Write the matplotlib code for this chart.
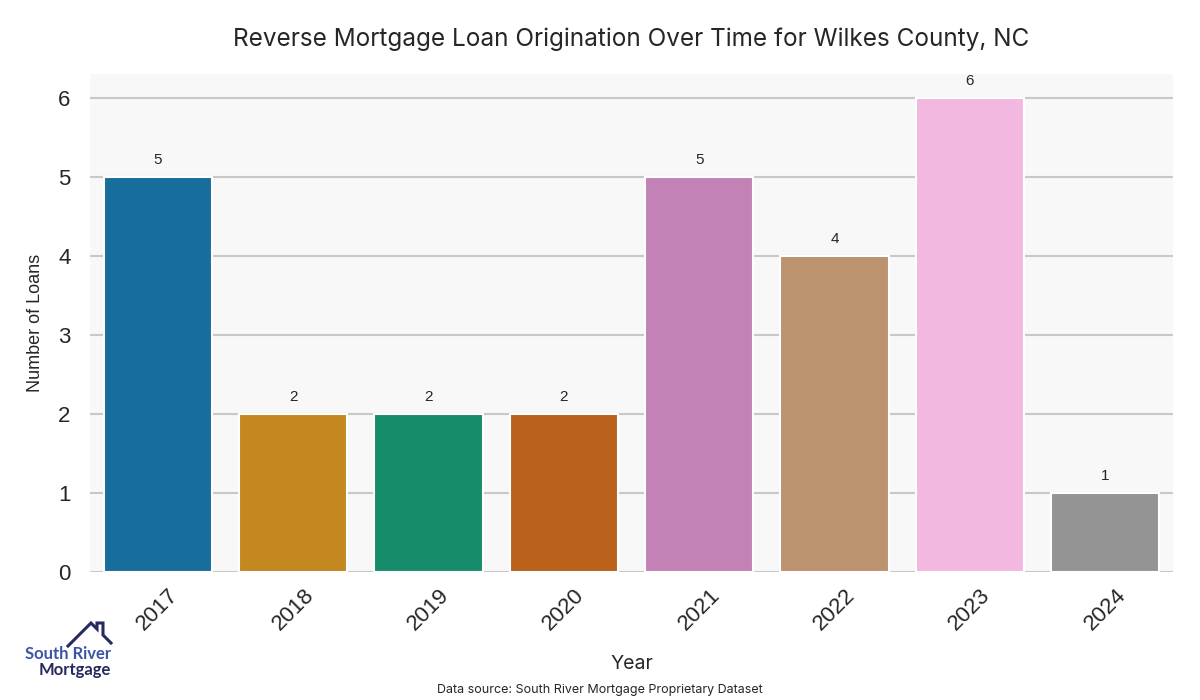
import matplotlib
matplotlib.use("Agg")
import matplotlib.pyplot as plt
from matplotlib.lines import Line2D
import seaborn as sns

years = ["2017", "2018", "2019", "2020", "2021", "2022", "2023", "2024"]
loans = [5, 2, 2, 2, 5, 4, 6, 1]

TITLE = "Reverse Mortgage Loan Origination Over Time for Wilkes County, NC"
SOURCE = "Data source: South River Mortgage Proprietary Dataset"

plt.rcParams["font.family"] = ["Liberation Sans", "DejaVu Sans"]

fig = plt.figure(figsize=(12, 7), dpi=100)
ax = fig.add_axes([0.075, 0.183, 0.9025, 0.711])
ax.set_facecolor("#f8f8f8")

sns.barplot(x=years, y=loans, hue=years, palette="colorblind", legend=False,
            edgecolor="white", linewidth=1.5, ax=ax, zorder=3)
for c in ax.containers:
    ax.bar_label(c, padding=7, fontsize=11, color="#262626")

ax.set_ylim(0, 6.3)
ax.set_xlim(-0.5, 7.5)
ax.set_yticks(range(7))
ax.yaxis.grid(True, color="#c8c8c8", linewidth=1.5, zorder=0)
ax.set_axisbelow(True)
for s in ax.spines.values():
    s.set_visible(False)
ax.tick_params(axis="both", length=0, labelsize=16, colors="#262626")
ax.tick_params(axis="y", pad=14)
ax.tick_params(axis="x", pad=9)
plt.setp(ax.get_xticklabels(), rotation=45)

ax.set_ylabel("Number of Loans", fontsize=13, color="#262626", labelpad=10)
ax.set_xlabel("Year", fontsize=14, color="#262626", labelpad=15,
              family=["Inter", "DejaVu Sans"])
ax.set_title(TITLE, fontsize=17.5, color="#262626", pad=20,
             family=["Inter", "DejaVu Sans"])
fig.text(0.5, 0.01, SOURCE, ha="center", fontsize=9, color="#262626",
         family=["Inter", "DejaVu Sans"])

# logo: house outline + company name
hx = [68, 91, 97, 97, 103, 103, 111]
hy = [646, 623, 629, 623, 623, 635, 643]
fig.add_artist(Line2D([x / 1200 for x in hx], [1 - y / 700 for y in hy],
                      color="#262a5e", linewidth=2.2, solid_joinstyle="miter"))
fig.text(111 / 1200, 1 - 654 / 700, "South River", ha="right", va="center",
         fontsize=12, fontweight="bold", color="#3d55a5",
         family=["Lato", "DejaVu Sans"])
fig.text(111 / 1200, 1 - 670 / 700, "Mortgage", ha="right", va="center",
         fontsize=12, fontweight="bold", color="#262a5e",
         family=["Lato", "DejaVu Sans"])

fig.savefig("out.png", dpi=100, facecolor="white")
